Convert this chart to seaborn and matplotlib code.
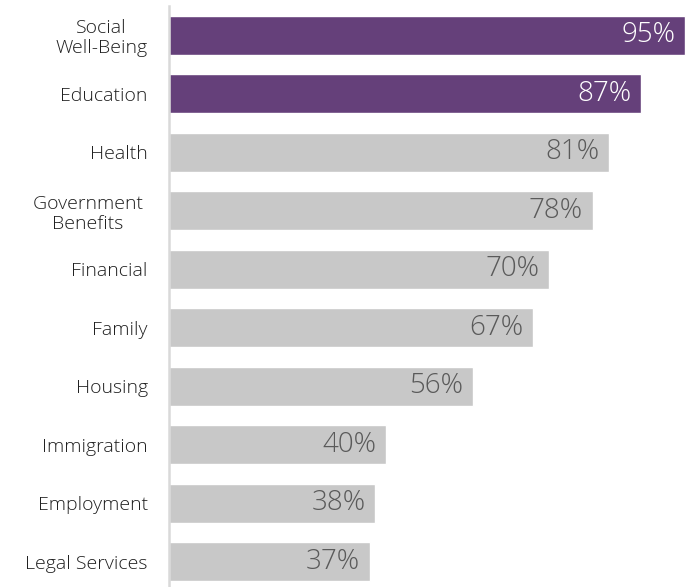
import matplotlib
matplotlib.use("Agg")
import matplotlib.pyplot as plt
import seaborn as sns
import pandas as pd

categories = ["Social\nWell-Being", "Education", "Health", "Government \nBenefits ",
              "Financial", "Family", "Housing", "Immigration", "Employment",
              "Legal Services"]
values = [95, 87, 81, 78, 70, 67, 56, 40, 38, 37]
highlight = [True, True, False, False, False, False, False, False, False, False]

PURPLE = "#65407a"
GRAY = "#c8c8c8"

df = pd.DataFrame({"category": categories, "value": values,
                   "group": ["top" if h else "rest" for h in highlight]})

sns.set_style("white")
plt.rcParams["font.family"] = ["Open Sans", "DejaVu Sans"]

fig = plt.figure(figsize=(6.86, 5.87), dpi=100)
ax = fig.add_axes([168.5 / 686, 0.0, 1 - 168.5 / 686, 1 - 6 / 587])

sns.barplot(data=df, y="category", x="value", hue="group",
            palette={"top": PURPLE, "rest": GRAY}, dodge=False,
            width=0.67, legend=False, ax=ax, saturation=1)

ax.set_xlim(0, 95.2)
ax.set_ylim(9.43, -0.5)
ax.set_xlabel("")
ax.set_ylabel("")
ax.set_xticks([])
for s in ["top", "right", "bottom"]:
    ax.spines[s].set_visible(False)
ax.spines["left"].set_color("#d9d9d9")
ax.spines["left"].set_linewidth(1.8)

ax.tick_params(axis="y", length=0, pad=15, labelsize=14, labelcolor="#1f1f1f")
for lab in ax.get_yticklabels():
    lab.set_multialignment("center")
    lab.set_fontweight(300)
    lab.set_linespacing(1.15)

for i, (v, h) in enumerate(zip(values, highlight)):
    ax.annotate(f"{v}%", xy=(v, i), xytext=(-7, 0), textcoords="offset points",
                ha="right", va="center", fontsize=20, fontweight=300,
                color="white" if h else "#5a5a5a")

fig.savefig("out.png", dpi=100)
